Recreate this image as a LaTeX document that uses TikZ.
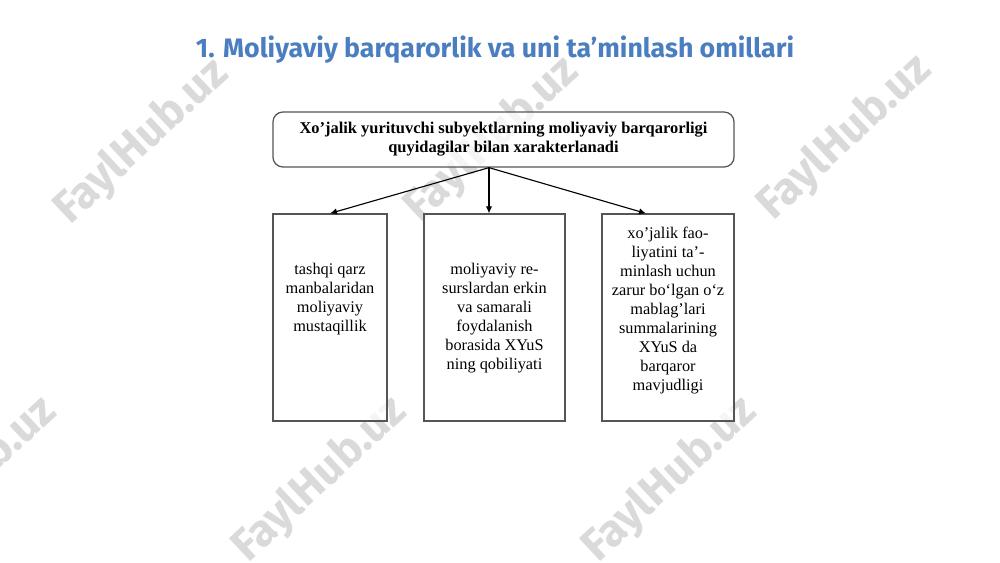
\documentclass[tikz,border=0pt]{standalone}
\usepackage{fontspec}
\setmainfont{Liberation Serif}
\newfontfamily\titlefont{Fira Sans}
\newfontfamily\wmfont{Fira Sans}
\usetikzlibrary{arrows.meta}
\definecolor{titleblue}{RGB}{74,126,193}
\definecolor{wmgray}{RGB}{218,218,218}
\definecolor{boxgray}{RGB}{85,85,85}
\tikzset{
  wmark/.style={rotate=43, text=wmgray, font=\wmfont\bfseries\fontsize{32}{32}\selectfont, inner sep=0pt},
  topbox/.style={draw=boxgray, line width=0.9pt, rounded corners=0.25cm, fill=white, fill opacity=0.75, text opacity=1,
    minimum width=11.525cm, minimum height=1.375cm, align=center, inner sep=0pt,
    font=\bfseries\fontsize{11.7}{13.6}\selectfont},
  bbox/.style={draw=boxgray, line width=0.8pt, fill=white, fill opacity=0.75, minimum height=5.175cm, inner sep=0pt},
  btext/.style={anchor=north, align=center, inner sep=0pt, font=\fontsize{11.6}{13.5}\selectfont},
  arr/.style={-{Latex[length=5pt,width=4.5pt]}, line width=0.8pt, black},
}
\begin{document}
\begin{tikzpicture}[x=0.025cm,y=-0.025cm]
\useasboundingbox (0,0) rectangle (1000,562);
\fill[white] (0,0) rectangle (1000,562);
% watermarks
\foreach \px/\py [count=\i] in {142/142, 492/140, 845/138, -30/480, 320/480, 670/480}
  \node[wmark] (wm\i) at (\px,\py) {FaylHub.uz};
% title
\node[anchor=base, text=titleblue, font=\titlefont\bfseries\fontsize{19}{22}\selectfont] (title) at (495,57)
  {1. Moliyaviy barqarorlik va uni ta’minlash omillari};
% top box
\node[topbox] (top) at (503.5,139.5) {Xo’jalik yurituvchi subyektlarning moliyaviy barqarorligi\\quyidagilar bilan xarakterlanadi};
% bottom boxes
\node[bbox, minimum width=2.85cm] (b1) at (330,317.5) {};
\node[bbox, minimum width=3.525cm] (b2) at (494.5,317.5) {};
\node[bbox, minimum width=3.3cm] (b3) at (668,317.5) {};
% texts
\node[btext] (t1) at (330,263) {tashqi qarz\\manbalaridan\\moliyaviy\\mustaqillik};
\node[btext] (t2) at (494.5,263) {moliyaviy re-\\surslardan erkin\\va samarali\\foydalanish\\borasida XYuS\\ning qobiliyati};
\node[btext] (t3) at (668,227) {xo’jalik fao-\\liyatini ta’-\\minlash uchun\\zarur bo‘lgan o‘z\\mablag’lari\\summalarining\\XYuS da\\barqaror\\mavjudligi};
% arrows
\coordinate (o) at ([xshift=-0.3625cm]top.south);
\draw[arr] (o) -- (b1.north);
\draw[arr] (o) -- (b2.north -| o);
\draw[arr] (o) -- ([xshift=-0.55cm]b3.north);
\end{tikzpicture}
\end{document}
